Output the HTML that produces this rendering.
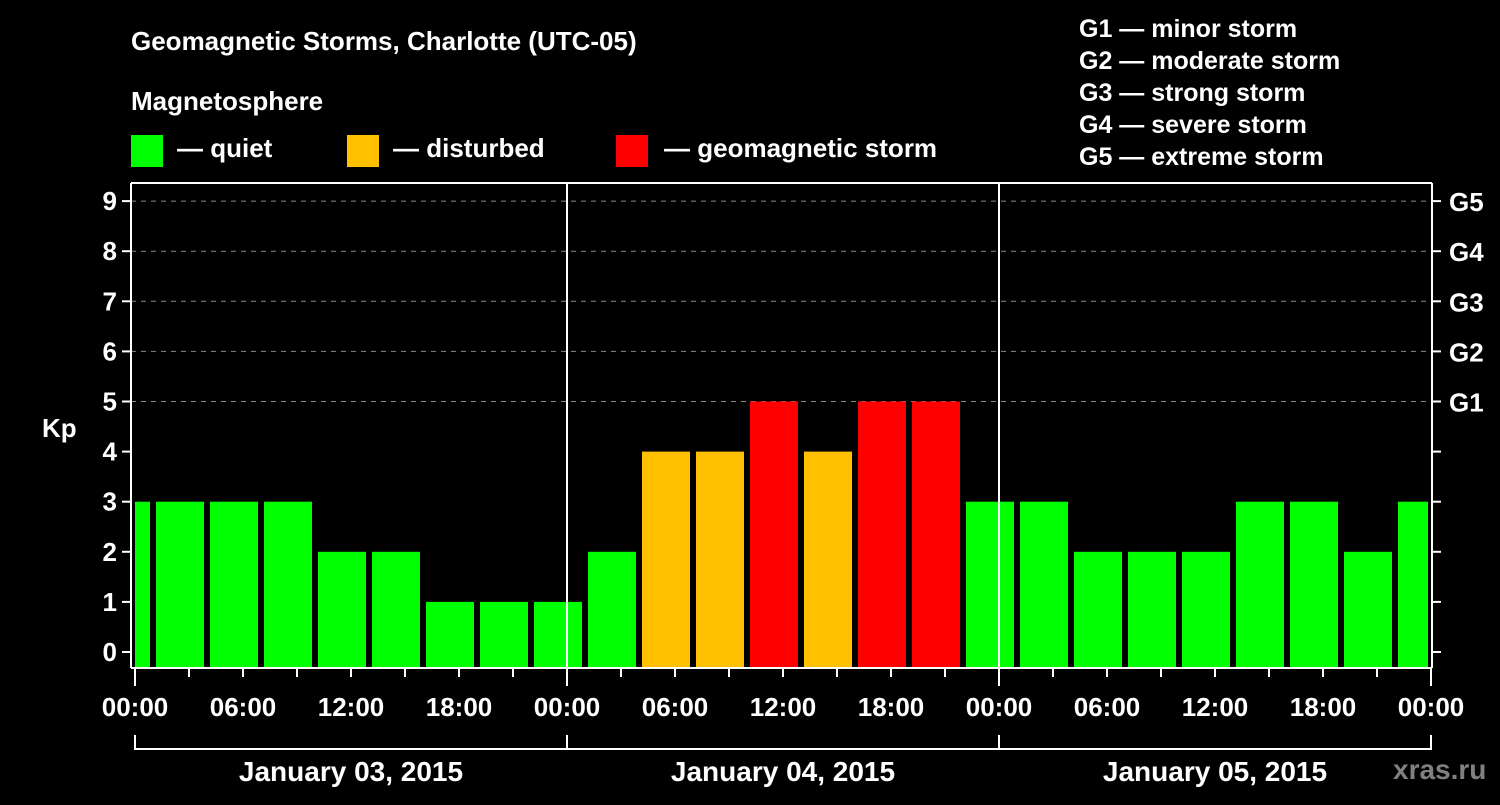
<!DOCTYPE html>
<html><head><meta charset="utf-8"><style>
body{margin:0;background:#000;width:1500px;height:800px;overflow:hidden}
svg text{font-family:"Liberation Sans",sans-serif;font-weight:bold;fill:#fff}
</style></head><body>
<svg id="c" width="1500" height="800" xmlns="http://www.w3.org/2000/svg">
<text x="131" y="50" font-size="26">Geomagnetic Storms, Charlotte (UTC-05)</text>
<text x="131" y="110" font-size="26">Magnetosphere</text>
<g><rect x="131" y="135" width="32" height="32" fill="#00ff00"/><text x="177" y="157" font-size="26">— quiet</text></g>
<g><rect x="347" y="135" width="32" height="32" fill="#ffc000"/><text x="393" y="157" font-size="26">— disturbed</text></g>
<g><rect x="616" y="135" width="32" height="32" fill="#ff0000"/><text x="664" y="157" font-size="26">— geomagnetic storm</text></g>
<g font-size="25">
<text x="1079" y="37">G1 — minor storm</text><text x="1079" y="69">G2 — moderate storm</text><text x="1079" y="101">G3 — strong storm</text><text x="1079" y="133">G4 — severe storm</text><text x="1079" y="165">G5 — extreme storm</text></g>
<text x="42" y="437" font-size="26">Kp</text>
<g id="grid"></g><g id="bars"></g><g id="axes"></g>
<text x="1393" y="779" font-size="28" fill="#808080" style="fill:#808080">xras.ru</text>
</svg>
<script>
const binStarts=[-2,1,4,7,10,13,16,19,22,25,28,31,34,37,40,43,46,49,52,55,58,61,64,67,70];
const kpValues=[3,3,3,3,2,2,1,1,1,2,4,4,5,4,5,5,3,3,2,2,2,3,3,2,3];
const kpTicks=[0,1,2,3,4,5,6,7,8,9];
const gLabels=["","","","","","G1","G2","G3","G4","G5"];
const hourLabels=["00:00","06:00","12:00","18:00","00:00","06:00","12:00","18:00","00:00","06:00","12:00","18:00","00:00"];
const dayLabels=["January 03, 2015","January 04, 2015","January 05, 2015"];
const NS="http://www.w3.org/2000/svg";
const X=h=>135+18*h, Y=k=>652-50.1*k;
const L=131,R=1432,T=183,B=668;
function mk(t,a,p,txt){const e=document.createElementNS(NS,t);for(const k in a)e.setAttribute(k,a[k]);if(txt!==undefined)e.textContent=txt;p.appendChild(e);return e;}
const grid=document.getElementById('grid'),bars=document.getElementById('bars'),axes=document.getElementById('axes');
kpTicks.forEach((k,i)=>{
 if(k>=5){const g=mk('line',{x1:L,x2:R,y1:Y(k),y2:Y(k),stroke:'#888','stroke-dasharray':'5,5','stroke-width':1},grid);
 
 }
 const t1=mk('line',{x1:L-9,x2:L,y1:Y(k),y2:Y(k),stroke:'#fff','stroke-width':2},axes);
 
 
 const t2=mk('line',{x1:R,x2:R+9,y1:Y(k),y2:Y(k),stroke:'#fff','stroke-width':2},axes);
 
 
 const tl=mk('text',{x:L-14,y:Y(k)+9,'text-anchor':'end','font-size':26},axes,String(k));
 
 
 if(gLabels[i]){const gl=mk('text',{x:R+17,y:Y(k)+10,'font-size':26},axes,gLabels[i]);
 
 }
});
binStarts.forEach((s,i)=>{
 const k=kpValues[i];
 let x1=Math.max(X(s)+3,135),x2=Math.min(X(s+3)-3,1428);
 const c=k>=5?'#ff0000':(k>=4?'#ffc000':'#00ff00');
 const r=mk('rect',{x:x1,y:Y(k),width:x2-x1,height:B-Y(k),fill:c},bars);
 
 
});
[[L,T,R,T],[L,T,L,B],[R,T,R,B],[L,B,R,B],[X(24),T,X(24),B],[X(48),T,X(48),B]].forEach(a=>{
 const l=mk('line',{x1:a[0],y1:a[1],x2:a[2],y2:a[3],stroke:'#fff','stroke-width':2},axes);
 
 
});
for(let h=0;h<=72;h+=3){
 const t=mk('line',{x1:X(h),x2:X(h),y1:B,y2:B+(h%24===0?18:9),stroke:'#fff','stroke-width':2},axes);
 
 
}
hourLabels.forEach((s,i)=>{
 const t=mk('text',{x:X(i*6),y:716,'text-anchor':'middle','font-size':26},axes,s);
 
 
});
const br=mk('path',{d:`M${X(0)} 735V749H${X(72)}V735M${X(24)} 735V749M${X(48)} 735V749`,stroke:'#fff','stroke-width':2,fill:'none'},axes);


dayLabels.forEach((s,i)=>{
 const t=mk('text',{x:X(i*24+12),y:781,'text-anchor':'middle','font-size':28},axes,s);
 
 
});
</script>
</body></html>
